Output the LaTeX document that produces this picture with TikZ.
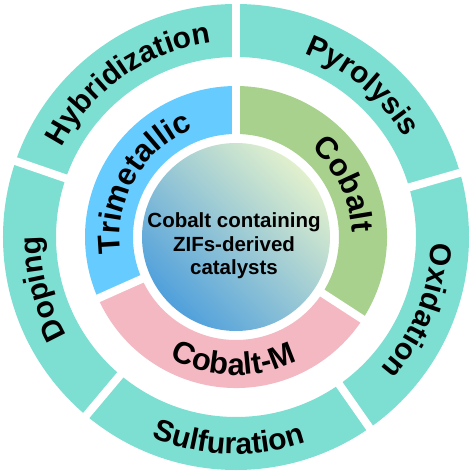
\documentclass[tikz,border=0pt]{standalone}
\usepackage{fontspec}
\setmainfont{Liberation Sans}
\usetikzlibrary{decorations.text}
\definecolor{ringteal}{RGB}{125,222,210}
\definecolor{trimblue}{RGB}{102,204,255}
\definecolor{cobgreen}{RGB}{169,209,142}
\definecolor{cobpink}{RGB}{244,184,194}
\definecolor{coreblue}{RGB}{80,160,220}
\definecolor{coregreen}{RGB}{225,240,205}
\newcommand{\outerfont}{\bfseries\fontsize{30}{32}\selectfont}
\newcommand{\midfont}{\bfseries\fontsize{31}{33}\selectfont}

\begin{document}
\begin{tikzpicture}
\tikzstyle{gap}=[draw=white, line width=8pt]
\tikzstyle{lbl}=[decorate, decoration={text along path, text align=center}]
\useasboundingbox (-236pt,-236pt) rectangle (235pt,237pt);

% outer ring of methods
\fill[ringteal, even odd rule] (0,0) circle[radius=233pt] circle[radius=180pt];
\foreach \a in {90,16,-55,-130,161}
  \draw[gap] (\a:176pt) -- (\a:240pt);

% middle ring of catalyst types
\fill[trimblue] (90:151pt) arc[start angle=90, end angle=204, radius=151pt]
  -- (204:103pt) arc[start angle=204, end angle=90, radius=103pt] -- cycle;
\fill[cobpink] (204:151pt) arc[start angle=204, end angle=327, radius=151pt]
  -- (327:103pt) arc[start angle=327, end angle=204, radius=103pt] -- cycle;
\fill[cobgreen] (-33:151pt) arc[start angle=-33, end angle=90, radius=151pt]
  -- (90:103pt) arc[start angle=90, end angle=-33, radius=103pt] -- cycle;
\foreach \a in {90,-33,204}
  \draw[gap] (\a:99pt) -- (\a:155pt);

% core
\shade[bottom color=coreblue, top color=coregreen, shading angle=-45] (0,0) circle[radius=94pt];
\node[align=center, font=\bfseries\fontsize{20.5}{23.5}\selectfont] (core) at (-2pt,-9pt)
  {Cobalt containing\\ZIFs-derived\\catalysts};

% labels on the outer ring
\path[lbl, decoration={text={|\outerfont|Hybridization}}] (165:195.5pt) arc[start angle=165, end angle=85, radius=195.5pt];
\path[lbl, decoration={text={|\outerfont|Pyrolysis}}] (95:195.5pt) arc[start angle=95, end angle=5, radius=195.5pt];
\path[lbl, decoration={text={|\outerfont|Oxidation}}] (23:195.5pt) arc[start angle=23, end angle=-67, radius=195.5pt];
\path[lbl, decoration={text={|\outerfont|Sulfuration}}] (-142:217pt) arc[start angle=-142, end angle=-42, radius=217pt];
\path[lbl, decoration={text={|\outerfont|Doping}}] (240:195.5pt) arc[start angle=240, end angle=150, radius=195.5pt];

% labels on the middle ring
\path[lbl, decoration={text={|\midfont|Trimetallic}}] (210:116pt) arc[start angle=210, end angle=90, radius=116pt];
\path[lbl, decoration={text={|\midfont|Cobalt}}] (86:116pt) arc[start angle=86, end angle=-34, radius=116pt];
\path[lbl, decoration={text={|\midfont|Cobalt-M}}] (-151:138pt) arc[start angle=-151, end angle=-31, radius=138pt];
\end{tikzpicture}
\end{document}
